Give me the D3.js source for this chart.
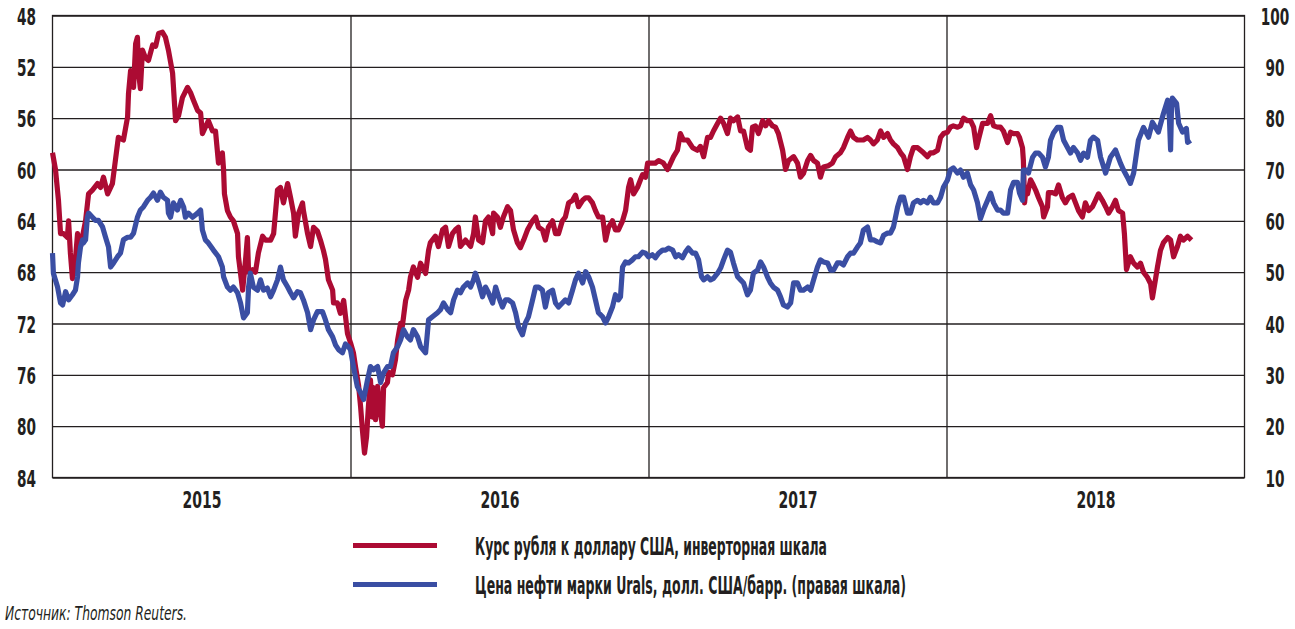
<!DOCTYPE html>
<html><head><meta charset="utf-8">
<script src="https://cdn.jsdelivr.net/npm/d3@7"></script>
<style>
body{margin:0;background:#fff}
svg{display:block}
text{font-family:"Liberation Sans Narrow","Arial Narrow","DejaVu Sans Condensed",sans-serif;fill:#231f20;font-weight:bold}
</style>
</head><body>
<svg id="chart" width="1295" height="629"></svg>
<script>
// ---- data (decimal year, value) ----
const rubDates = [2015.000,2015.010,2015.020,2015.027,2015.037,2015.050,2015.054,2015.060,2015.067,2015.077,2015.084,2015.094,2015.111,2015.121,2015.134,2015.151,2015.161,2015.171,2015.185,2015.201,2015.211,2015.221,2015.238,2015.252,2015.255,2015.262,2015.272,2015.279,2015.285,2015.289,2015.295,2015.302,2015.312,2015.322,2015.336,2015.346,2015.356,2015.369,2015.379,2015.389,2015.403,2015.406,2015.413,2015.423,2015.436,2015.453,2015.463,2015.473,2015.487,2015.497,2015.503,2015.513,2015.523,2015.537,2015.547,2015.557,2015.570,2015.574,2015.577,2015.587,2015.597,2015.607,2015.621,2015.624,2015.638,2015.648,2015.654,2015.658,2015.671,2015.681,2015.691,2015.705,2015.715,2015.732,2015.742,2015.755,2015.765,2015.775,2015.789,2015.799,2015.809,2015.815,2015.826,2015.839,2015.842,2015.856,2015.866,2015.876,2015.889,2015.899,2015.909,2015.916,2015.926,2015.940,2015.943,2015.956,2015.966,2015.977,2015.990,
2016.000,2016.010,2016.017,2016.027,2016.034,2016.040,2016.047,2016.054,2016.060,2016.067,2016.074,2016.077,2016.084,2016.091,2016.101,2016.107,2016.111,2016.124,2016.128,2016.141,2016.151,2016.158,2016.168,2016.174,2016.185,2016.195,2016.201,2016.211,2016.225,2016.235,2016.252,2016.262,2016.268,2016.285,2016.295,2016.309,2016.319,2016.329,2016.342,2016.352,2016.362,2016.369,2016.386,2016.403,2016.413,2016.419,2016.430,2016.443,2016.453,2016.463,2016.477,2016.480,2016.493,2016.503,2016.513,2016.527,2016.537,2016.547,2016.560,2016.570,2016.581,2016.594,2016.611,2016.621,2016.631,2016.644,2016.654,2016.664,2016.678,2016.688,2016.698,2016.711,2016.721,2016.732,2016.745,2016.755,2016.765,2016.779,2016.789,2016.799,2016.812,2016.822,2016.832,2016.846,2016.856,2016.866,2016.879,2016.889,2016.899,2016.913,2016.923,2016.933,2016.940,2016.950,2016.963,2016.973,2016.980,2016.990,2016.997,
2017.007,2017.023,2017.034,2017.050,2017.064,2017.074,2017.084,2017.097,2017.107,2017.117,2017.131,2017.148,2017.164,2017.174,2017.185,2017.198,2017.208,2017.218,2017.232,2017.242,2017.252,2017.265,2017.275,2017.285,2017.299,2017.309,2017.319,2017.332,2017.342,2017.349,2017.359,2017.369,2017.383,2017.393,2017.403,2017.416,2017.426,2017.436,2017.450,2017.460,2017.470,2017.487,2017.500,2017.510,2017.520,2017.534,2017.544,2017.554,2017.567,2017.577,2017.587,2017.604,2017.617,2017.628,2017.644,2017.654,2017.668,2017.678,2017.688,2017.701,2017.711,2017.721,2017.735,2017.745,2017.755,2017.768,2017.779,2017.789,2017.802,2017.812,2017.822,2017.836,2017.846,2017.856,2017.869,2017.879,2017.889,2017.903,2017.913,2017.923,2017.936,2017.946,2017.956,2017.970,2017.980,2017.990,
2018.003,2018.013,2018.023,2018.037,2018.047,2018.057,2018.070,2018.081,2018.091,2018.101,2018.107,2018.121,2018.138,2018.148,2018.158,2018.171,2018.181,2018.191,2018.205,2018.215,2018.225,2018.238,2018.245,2018.255,2018.258,2018.262,2018.265,2018.272,2018.282,2018.289,2018.299,2018.309,2018.322,2018.326,2018.339,2018.342,2018.356,2018.366,2018.376,2018.389,2018.399,2018.409,2018.423,2018.433,2018.443,2018.456,2018.466,2018.477,2018.490,2018.500,2018.510,2018.523,2018.534,2018.544,2018.557,2018.567,2018.577,2018.591,2018.597,2018.604,2018.617,2018.628,2018.641,2018.651,2018.661,2018.674,2018.685,2018.691,2018.701,2018.708,2018.718,2018.728,2018.742,2018.752,2018.762,2018.775,2018.785,2018.795,2018.809,2018.822];
const rubValues = [58.7,60.0,62.4,65.0,65.0,65.3,64.0,66.5,68.5,67.0,65.0,66.0,64.0,61.9,61.6,61.1,61.4,60.6,61.9,61.1,59.3,57.5,57.7,55.9,54.1,52.3,53.6,50.2,49.7,52.5,53.7,50.7,51.3,51.5,50.3,50.4,49.4,49.3,49.7,50.7,52.5,53.6,56.2,55.8,54.4,53.6,54.0,54.6,55.4,55.6,57.2,56.7,56.2,57.0,57.0,59.5,58.7,60.0,61.9,63.2,63.7,64.0,65.0,66.8,69.4,67.0,65.3,68.0,67.8,68.0,66.5,65.2,65.5,65.5,65.0,61.6,61.4,62.6,61.1,62.2,63.4,65.2,63.4,62.6,63.2,65.0,66.0,64.5,64.8,65.5,66.3,67.0,68.6,69.4,70.4,70.4,71.2,70.2,72.8,
73.5,74.3,75.4,76.8,78.5,80.3,82.1,80.8,78.5,76.4,79.3,77.0,79.5,76.9,79.0,80.0,77.0,76.6,75.8,76.0,74.8,73.3,72.0,72.2,70.2,69.4,68.4,67.6,68.4,67.3,68.1,66.3,65.7,65.2,66.0,64.7,64.5,66.0,65.0,64.7,64.5,66.0,65.5,66.0,65.0,63.7,65.5,65.7,64.0,63.7,65.0,63.4,63.7,64.5,63.7,62.9,63.2,64.7,65.7,66.1,65.5,64.7,64.0,63.7,64.5,64.7,65.5,64.5,64.0,65.0,65.0,64.0,63.7,62.6,62.4,62.0,62.9,62.4,62.2,62.2,62.6,63.2,63.7,63.7,65.5,64.5,64.0,64.7,64.7,64.0,63.2,61.4,60.8,61.9,61.4,60.8,60.4,60.6,59.5,
59.5,59.5,59.3,59.5,60.0,59.5,59.0,58.5,57.2,57.7,57.7,58.3,58.5,58.2,59.0,57.5,57.5,57.0,56.4,56.0,56.4,57.2,56.0,56.2,55.9,57.0,57.0,58.3,58.5,56.7,56.6,57.2,56.2,56.6,56.2,56.6,56.7,57.2,58.5,60.0,59.3,59.0,59.5,60.6,60.3,59.3,58.9,59.3,59.5,60.6,59.8,59.7,59.5,59.0,58.7,58.3,57.5,57.0,57.5,57.7,57.7,57.7,57.5,57.7,58.0,57.7,57.0,57.5,57.2,57.7,58.0,58.3,58.7,59.0,60.0,59.0,58.3,58.3,58.5,58.7,59.0,58.7,58.7,58.5,57.5,57.2,
57.1,56.7,56.6,56.7,56.6,56.0,56.2,56.2,56.7,58.3,57.7,56.4,56.4,55.8,56.6,56.7,56.7,57.0,57.9,57.1,57.2,57.2,57.5,58.3,59.3,62.6,61.9,61.9,60.8,61.1,61.6,62.2,62.9,63.7,62.9,61.8,61.8,61.9,61.2,62.2,62.6,62.2,62.0,62.6,63.2,63.7,62.6,63.2,62.9,62.4,61.9,62.4,62.9,63.4,62.9,62.4,63.2,63.4,65.0,67.8,66.8,67.3,67.6,67.3,68.0,68.4,68.9,70.0,68.6,67.6,66.3,65.7,65.3,65.5,66.8,66.0,65.2,65.5,65.2,65.5];

const oilDates = [2015.000,2015.003,2015.017,2015.027,2015.034,2015.044,2015.054,2015.067,2015.077,2015.084,2015.087,2015.094,2015.101,2015.104,2015.111,2015.117,2015.121,2015.134,2015.144,2015.154,2015.168,2015.178,2015.188,2015.195,2015.205,2015.218,2015.228,2015.238,2015.252,2015.262,2015.272,2015.285,2015.295,2015.305,2015.319,2015.329,2015.339,2015.352,2015.362,2015.372,2015.386,2015.389,2015.396,2015.406,2015.419,2015.430,2015.440,2015.446,2015.456,2015.470,2015.487,2015.497,2015.503,2015.513,2015.523,2015.540,2015.557,2015.570,2015.574,2015.587,2015.597,2015.607,2015.621,2015.631,2015.641,2015.654,2015.658,2015.664,2015.674,2015.688,2015.698,2015.708,2015.721,2015.732,2015.742,2015.755,2015.765,2015.775,2015.789,2015.799,2015.809,2015.822,2015.832,2015.842,2015.856,2015.866,2015.876,2015.889,2015.906,2015.916,2015.926,2015.940,2015.950,2015.960,2015.973,2015.983,2015.993,
2016.000,2016.010,2016.023,2016.034,2016.044,2016.057,2016.067,2016.077,2016.091,2016.101,2016.111,2016.124,2016.134,2016.144,2016.158,2016.168,2016.178,2016.191,2016.201,2016.211,2016.225,2016.235,2016.252,2016.262,2016.275,2016.292,2016.302,2016.312,2016.326,2016.336,2016.346,2016.359,2016.369,2016.379,2016.393,2016.403,2016.413,2016.419,2016.430,2016.443,2016.453,2016.463,2016.477,2016.487,2016.497,2016.510,2016.520,2016.530,2016.544,2016.554,2016.564,2016.577,2016.587,2016.597,2016.611,2016.621,2016.631,2016.644,2016.654,2016.664,2016.678,2016.688,2016.698,2016.711,2016.721,2016.732,2016.745,2016.755,2016.765,2016.779,2016.789,2016.799,2016.812,2016.822,2016.832,2016.846,2016.856,2016.866,2016.879,2016.889,2016.899,2016.906,2016.913,2016.923,2016.933,2016.946,2016.956,2016.966,2016.980,2016.990,
2017.000,2017.013,2017.023,2017.034,2017.047,2017.057,2017.067,2017.081,2017.091,2017.101,2017.114,2017.124,2017.134,2017.148,2017.158,2017.168,2017.178,2017.185,2017.198,2017.208,2017.218,2017.232,2017.242,2017.252,2017.265,2017.275,2017.285,2017.299,2017.309,2017.319,2017.332,2017.342,2017.352,2017.366,2017.376,2017.386,2017.399,2017.409,2017.419,2017.433,2017.443,2017.453,2017.466,2017.477,2017.487,2017.500,2017.510,2017.520,2017.534,2017.544,2017.554,2017.567,2017.577,2017.587,2017.601,2017.611,2017.621,2017.634,2017.644,2017.654,2017.668,2017.678,2017.688,2017.701,2017.711,2017.721,2017.735,2017.745,2017.755,2017.768,2017.779,2017.789,2017.802,2017.812,2017.822,2017.836,2017.846,2017.856,2017.869,2017.879,2017.889,2017.903,2017.913,2017.923,2017.936,2017.946,2017.956,2017.970,2017.980,2017.990,
2018.003,2018.013,2018.023,2018.037,2018.047,2018.057,2018.070,2018.081,2018.091,2018.104,2018.114,2018.124,2018.138,2018.148,2018.158,2018.171,2018.181,2018.191,2018.205,2018.215,2018.225,2018.238,2018.245,2018.255,2018.258,2018.272,2018.275,2018.289,2018.299,2018.309,2018.322,2018.332,2018.342,2018.349,2018.359,2018.372,2018.383,2018.393,2018.406,2018.416,2018.426,2018.440,2018.450,2018.460,2018.473,2018.483,2018.493,2018.507,2018.517,2018.534,2018.550,2018.567,2018.584,2018.594,2018.607,2018.617,2018.628,2018.644,2018.661,2018.678,2018.691,2018.711,2018.728,2018.742,2018.748,2018.752,2018.755,2018.758,2018.772,2018.779,2018.792,2018.805,2018.809,2018.819];
const oilValues = [53.7,49.8,47.1,44.0,43.6,46.2,44.6,45.6,46.5,49.1,51.8,54.9,56.3,55.7,56.3,60.7,61.5,60.7,60.1,60.1,58.8,56.8,54.9,51.0,51.8,53.0,53.7,56.3,56.8,56.8,57.6,60.7,62.1,62.7,64.0,64.6,65.4,64.0,65.6,64.6,64.0,61.5,60.7,63.5,62.1,64.0,62.7,60.7,61.5,60.7,61.5,62.1,58.2,56.3,55.7,54.3,53.0,51.0,49.1,47.1,46.5,47.1,46.0,44.0,41.1,42.1,47.1,49.8,47.1,46.5,48.5,46.5,46.9,45.2,46.5,48.5,51.0,48.5,47.1,46.0,45.0,46.2,46.0,44.6,42.1,38.8,40.7,42.3,42.3,40.7,38.8,37.4,35.8,34.9,34.3,36.0,35.5,
34.9,31.6,27.7,26.5,25.2,29.0,31.6,31.0,31.6,28.5,30.4,31.6,31.6,34.3,35.5,36.8,38.8,37.4,36.8,38.8,37.4,35.5,34.3,40.7,41.3,42.1,42.7,44.0,42.7,42.1,44.6,46.5,46.0,47.1,47.9,47.1,48.5,49.8,47.9,45.2,47.1,46.0,44.0,47.1,45.2,43.2,44.6,44.6,44.0,42.1,39.3,37.8,40.1,41.3,44.6,47.1,47.1,46.5,43.2,46.0,46.5,44.0,43.2,44.0,44.6,44.0,46.5,48.5,49.8,47.9,50.1,49.1,47.1,44.6,42.1,41.3,40.1,41.3,43.2,45.6,44.6,45.2,51.0,52.0,51.8,52.4,53.0,53.0,53.9,53.7,
53.0,53.4,52.8,53.7,54.3,54.3,54.7,54.3,53.0,53.4,52.8,53.9,54.7,53.7,53.7,52.4,49.1,48.5,49.1,48.5,48.8,49.8,50.8,52.4,54.3,53.9,51.8,49.1,48.5,47.9,45.6,46.5,49.8,50.4,52.0,51.0,49.1,47.9,47.1,46.5,45.2,43.6,43.2,44.0,47.9,47.9,46.5,46.5,47.1,46.5,48.5,51.0,52.4,52.0,51.8,50.4,50.4,51.8,51.8,51.4,53.0,53.7,53.7,54.9,55.7,58.2,58.8,56.3,56.3,55.9,55.7,57.2,57.6,57.6,58.8,62.7,64.6,64.6,61.5,61.5,63.5,64.0,63.5,64.0,63.5,64.6,63.5,63.5,64.6,66.6,
67.9,69.9,70.3,69.3,69.9,68.5,69.3,67.0,66.0,63.5,60.4,62.1,64.0,65.4,63.5,62.1,62.1,61.5,61.5,66.0,67.5,67.5,65.4,64.0,69.9,69.9,69.3,72.4,73.2,73.2,72.4,70.5,72.4,75.7,77.1,78.2,78.2,75.7,74.3,73.2,74.3,73.2,71.8,73.2,72.4,75.7,76.3,75.7,72.4,69.3,72.4,73.8,71.2,69.9,68.5,67.3,69.3,75.7,78.2,76.3,79.2,77.3,80.9,83.5,80.0,73.8,82.0,83.9,82.9,79.0,77.3,78.0,75.3,75.7];

const leftTicks = [48,52,56,60,64,68,72,76,80,84];
const rightTicks = [100,90,80,70,60,50,40,30,20,10];
const yearGrid = [2016,2017,2018];
const yearLabels = ["2015","2016","2017","2018"];
const yearLabelPos = [2015.5,2016.5,2017.5,2018.5];
const legendLabels = ["Курс рубля к доллару США, инверторная шкала","Цена нефти марки Urals, долл. США/барр. (правая шкала)"];
const sourceText = "Источник: Thomson Reuters.";

// ---- layout ----
const L = 52.5, R = 1244.5, T = 15.5, B = 477.5;
const RED = "#ac0b33", BLUE = "#3a4ea3", INK = "#231f20";
const svg = d3.select("#chart");

const x = d3.scaleLinear().domain([2015, 2019]).range([L, R]);
const yL = d3.scaleLinear().domain([48, 84]).range([T, B]);
const yR = d3.scaleLinear().domain([100, 10]).range([T, B]);

const DIGIT_W = 9.5;
const FS = 23;

// horizontal grid + left labels
const gl = svg.append("g").attr("transform", `translate(${L},0)`)
  .call(d3.axisLeft(yL).tickValues(leftTicks).tickSize(-(R - L)).tickPadding(16.5).tickFormat(d3.format("d")));
gl.attr("font-family", null).attr("font-size", null);
gl.select(".domain").remove();
gl.selectAll(".tick line").attr("stroke", INK).attr("stroke-width", 1.3);
gl.selectAll(".tick text").attr("font-size", FS).attr("dy", null).attr("y", 8.5).attr("fill", INK)
  .attr("textLength", d => String(d).length * DIGIT_W).attr("lengthAdjust", "spacingAndGlyphs");

// right labels
const gr = svg.append("g").attr("transform", `translate(${R},0)`)
  .call(d3.axisRight(yR).tickValues(rightTicks).tickSize(0).tickPadding(30.5).tickFormat(d3.format("d")));
gr.attr("font-family", null).attr("font-size", null);
gr.select(".domain").remove();
gr.selectAll(".tick text").attr("font-size", FS).attr("dy", null).attr("y", 8.5)
  .attr("text-anchor", "middle").attr("fill", INK)
  .attr("textLength", d => String(d).length * DIGIT_W).attr("lengthAdjust", "spacingAndGlyphs");

// vertical year grid
const gv = svg.append("g").attr("transform", `translate(0,${B})`)
  .call(d3.axisBottom(x).tickValues(yearGrid).tickSize(-(B - T)).tickFormat(""));
gv.select(".domain").remove();
gv.selectAll(".tick line").attr("stroke", INK).attr("stroke-width", 1.3);

// year labels
const gb = svg.append("g").attr("transform", `translate(0,${B})`)
  .call(d3.axisBottom(x).tickValues(yearLabelPos).tickSize(0).tickPadding(0)
    .tickFormat((d, i) => yearLabels[i]));
gb.attr("font-family", null).attr("font-size", null);
gb.select(".domain").remove();
gb.selectAll(".tick text").attr("font-size", FS).attr("dy", null).attr("y", 30).attr("fill", INK)
  .attr("textLength", 39).attr("lengthAdjust", "spacingAndGlyphs");

// frame
svg.append("rect").attr("x", L).attr("y", T).attr("width", R - L).attr("height", B - T)
  .attr("fill", "none").attr("stroke", INK).attr("stroke-width", 1.3);

// lines
const rub = rubDates.map((t, i) => ({t, v: rubValues[i]}));
const oil = oilDates.map((t, i) => ({t, v: oilValues[i]}));

svg.append("path").datum(rub)
  .attr("d", d3.line().x(d => x(d.t)).y(d => yL(d.v)))
  .attr("fill", "none").attr("stroke", RED).attr("stroke-width", 5.2).attr("stroke-linejoin", "round");
svg.append("path").datum(oil)
  .attr("d", d3.line().x(d => x(d.t)).y(d => yR(d.v)))
  .attr("fill", "none").attr("stroke", BLUE).attr("stroke-width", 5.2).attr("stroke-linejoin", "round");

// legend
const legColors = [RED, BLUE];
const legY = [545.5, 584.5];
const legW = [352, 431];
const lg = svg.append("g");
legendLabels.forEach((lab, i) => {
  lg.append("line").attr("x1", 353).attr("x2", 437).attr("y1", legY[i]).attr("y2", legY[i])
    .attr("stroke", legColors[i]).attr("stroke-width", 5);
  lg.append("text").attr("x", 475).attr("y", legY[i] + 9.5).attr("font-size", 24)
    .attr("textLength", legW[i]).attr("lengthAdjust", "spacingAndGlyphs").text(lab);
});

// source
svg.append("text").attr("x", 5).attr("y", 620).attr("font-size", 19).attr("font-style", "italic")
  .attr("font-weight", "normal").style("font-weight", "normal")
  .attr("textLength", 182).attr("lengthAdjust", "spacingAndGlyphs").text(sourceText);
</script>
</body></html>
